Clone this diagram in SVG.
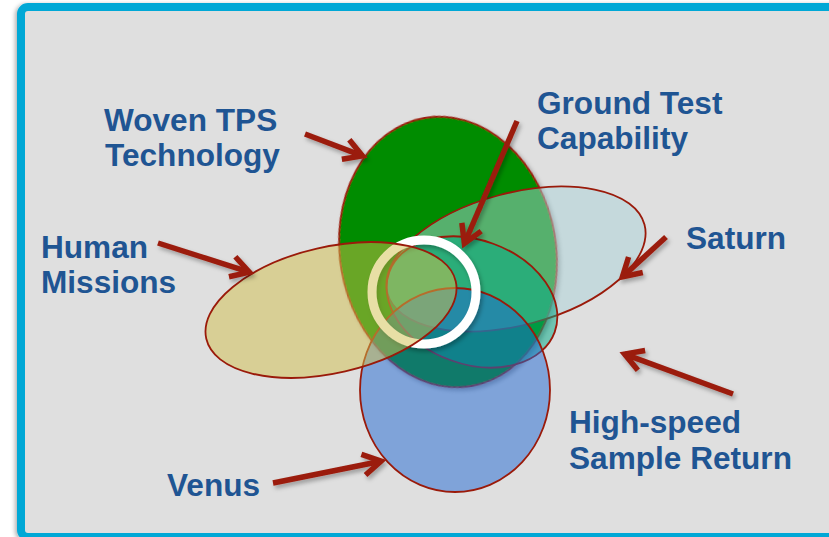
<svg xmlns="http://www.w3.org/2000/svg" width="829" height="537" viewBox="0 0 829 537">
<defs>
<style>
.lbl{font-family:"Liberation Sans",Arial,sans-serif;font-weight:bold;font-size:31.6px;fill:#1F5593}
.ell{stroke:#9A1A0A;stroke-width:1.8}
.arr{fill:none;stroke:#9B1B0B;stroke-width:5.5;marker-end:url(#ah)}
</style>
<filter id="sh" x="-20%" y="-20%" width="140%" height="140%">
<feDropShadow dx="2" dy="3" stdDeviation="2.2" flood-color="#000" flood-opacity="0.3"/>
</filter>
<filter id="fsh" x="-5%" y="-5%" width="110%" height="110%">
<feDropShadow dx="-2" dy="1" stdDeviation="2" flood-color="#000" flood-opacity="0.3"/>
</filter>
<marker id="ah" markerUnits="userSpaceOnUse" viewBox="-25 -15 30 30" refX="0" refY="0" markerWidth="30" markerHeight="30" orient="auto" overflow="visible">
<path d="M-18,-10.5 L0,0 L-18,10.5" fill="none" stroke="#9B1B0B" stroke-width="5.5" stroke-linejoin="miter"/>
</marker>
</defs>
<rect x="21" y="7" width="830" height="530" rx="7" fill="#DFDFDF" stroke="#00A8D6" stroke-width="8" filter="url(#fsh)"/>
<g id="woven-tps">
<ellipse class="ell" cx="0" cy="0" rx="108" ry="136" transform="translate(448 252) rotate(-10)" fill="#008C00" filter="url(#sh)"/>
<text class="lbl" x="104" y="131">Woven TPS</text>
<text class="lbl" x="105" y="166">Technology</text>
</g>
<g id="saturn">
<ellipse class="ell" cx="0" cy="0" rx="133" ry="66" transform="translate(516 259) rotate(-15)" fill="#ACD4DA" fill-opacity="0.5"/>
<text class="lbl" x="686" y="249">Saturn</text>
</g>
<g id="high-speed">
<ellipse class="ell" cx="0" cy="0" rx="88" ry="62" transform="translate(472 302) rotate(20)" fill="#00AA86" fill-opacity="0.5"/>
<text class="lbl" x="569" y="433">High-speed</text>
<text class="lbl" x="569" y="469">Sample Return</text>
</g>
<g id="venus">
<ellipse class="ell" cx="455" cy="390" rx="95" ry="102" fill="#1F67D3" fill-opacity="0.5"/>
<text class="lbl" x="167" y="496">Venus</text>
</g>
<g id="ground-test">
<circle cx="424" cy="292" r="52" fill="none" stroke="#FFFFFF" stroke-width="9" filter="url(#sh)"/>
<text class="lbl" x="537" y="114">Ground Test</text>
<text class="lbl" x="537" y="149">Capability</text>
</g>
<g id="human-missions">
<ellipse class="ell" cx="0" cy="0" rx="128" ry="63" transform="translate(331 310) rotate(-13)" fill="#D1BF4B" fill-opacity="0.5"/>
<text class="lbl" x="41" y="258">Human</text>
<text class="lbl" x="41" y="293">Missions</text>
</g>
<g id="connectors" filter="url(#sh)">
<path class="arr" d="M305,134 L362.4,155.9"/>
<path class="arr" d="M517,121 L464.4,243.5"/>
<path class="arr" d="M158,243 L249.3,272.2"/>
<path class="arr" d="M666,237 L622.4,276.9"/>
<path class="arr" d="M733,394 L624.6,354.1"/>
<path class="arr" d="M273,483 L381.1,461.2"/>
</g>
</svg>
